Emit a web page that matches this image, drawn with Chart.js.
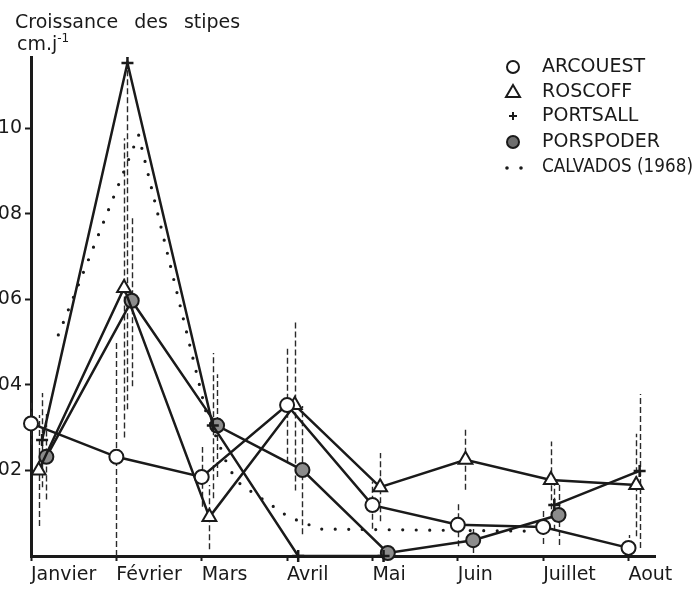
<!DOCTYPE html>
<html><head><meta charset="utf-8">
<script src="https://cdn.jsdelivr.net/npm/chart.js@4.4.1/dist/chart.umd.min.js"></script>
<style>
html,body{margin:0;padding:0;background:#fff;}
#wrap{position:relative;width:700px;height:590px;overflow:hidden;background:#fff;}
#c{position:absolute;left:-12px;top:0;}
.t{position:absolute;font-family:"DejaVu Sans";color:#1a1a1a;white-space:nowrap;line-height:19px;font-size:19px;}
</style></head><body>
<div id="wrap">
<canvas id="c" width="712" height="590"></canvas>
<div class="t" style="left:15px;top:12px;word-spacing:10px;">Croissance des stipes</div>
<div class="t" style="left:17px;top:34px;">cm.j<span style="font-size:12px;position:relative;top:-8px;">-1</span></div>
</div>
<script>
// ---- data ----
const months = ['Janvier', 'Février', 'Mars', 'Avril', 'Mai', 'Juin', 'Juillet', 'Aout'];
const yTickValues = [0.02, 0.04, 0.06, 0.08, 0.10];
const yTickLabels = ['.02', '.04', '.06', '.08', '.10'];

const arcouest  = [0.0310, 0.0232, 0.0185, 0.0353, 0.0119, 0.0073, 0.0068, 0.0019];
const roscoff   = [0.0200, 0.0627, 0.0091, 0.0353, 0.0161, 0.0225, 0.0178, 0.0166];
const portsall  = [0.0271, 0.1153, 0.0305, 0.0000, 0.0000, null,   0.0119, 0.0199];
const porspoder = [0.0232, 0.0597, 0.0305, 0.0201, 0.0007, 0.0037, 0.0096, null];

// standard deviations (vertical bars)
const arcouestSd  = [0.005, 0.027, 0.007, 0.0135, 0.0055, 0.005, 0.004, 0.003];
const roscoffSd   = [0.013, 0.035, 0.0075, 0.020, 0.008, 0.007, 0.009, 0.012];
const portsallSd  = [0.011, 0.081, 0.017, 0, 0, null, 0.006, 0.018];
const porspoderSd = [0.010, 0.020, 0.012, 0.015, 0, 0.003, 0.007, null];

// Calvados (1968): dotted curve, positions in months from Janvier
const calvadosMonth = [0.32, 1.26, 2.05, 2.32, 2.46, 2.61, 3.02, 3.39, 5.93];
const calvadosValue = [0.0517, 0.0985, 0.0337, 0.0204, 0.0166, 0.0147, 0.0091, 0.0063, 0.0058];

// ---- presentation ----
const SHIFT = 12;                 // canvas is shifted left (left edge of tick labels is cut)
const seriesShift = {ARCOUEST: 0, ROSCOFF: 0.09, PORTSALL: 0.13, PORSPODER: 0.18};
const INK = '#1a1a1a';

function pts(vals, shift) { return vals.map((v, i) => ({x: i + shift, y: v})); }

Chart.defaults.font.family = '"DejaVu Sans"';
Chart.defaults.font.size = 19;
Chart.defaults.color = INK;

const lineBase = {borderColor: INK, borderWidth: 2.5, tension: 0, clip: false, spanGaps: false,
  pointBorderColor: INK, pointBorderWidth: 2, pointHoverRadius: 7};

const datasets = [
  Object.assign({}, lineBase, {label: 'ARCOUEST', data: pts(arcouest, seriesShift.ARCOUEST), sd: arcouestSd,
    pointStyle: 'circle', pointRadius: 7, pointBackgroundColor: '#fff', marker: 'circle'}),
  Object.assign({}, lineBase, {label: 'ROSCOFF', data: pts(roscoff, seriesShift.ROSCOFF), sd: roscoffSd,
    pointStyle: 'triangle', pointRadius: 8, pointBackgroundColor: '#fff', marker: 'triangle'}),
  Object.assign({}, lineBase, {label: 'PORTSALL', data: pts(portsall, seriesShift.PORTSALL), sd: portsallSd,
    pointStyle: 'cross', pointRadius: 6, pointBorderWidth: 2.5, pointBackgroundColor: INK, marker: 'cross'}),
  Object.assign({}, lineBase, {label: 'PORSPODER', data: pts(porspoder, seriesShift.PORSPODER), sd: porspoderSd,
    pointStyle: 'circle', pointRadius: 7, pointBackgroundColor: '#8c8c8c', marker: 'filled'}),
  {label: 'CALVADOS (1968)', data: calvadosMonth.map((m, i) => ({x: m, y: calvadosValue[i]})),
    borderColor: INK, borderWidth: 3.2, borderDash: [0, 13.5], borderCapStyle: 'round',
    pointRadius: 0, tension: 0, clip: false, marker: 'dots'}
];

const errorBars = {
  id: 'errorBars',
  beforeDatasetsDraw(chart) {
    const {ctx, chartArea: a, scales: {x, y}} = chart;
    ctx.save();
    ctx.beginPath();
    ctx.rect(a.left, a.top, a.right - a.left, a.bottom - a.top);
    ctx.clip();
    ctx.strokeStyle = '#2a2a2a';
    ctx.lineWidth = 1.4;
    ctx.setLineDash([6, 3]);
    chart.data.datasets.forEach(ds => {
      if (!ds.sd) return;
      ds.data.forEach((p, i) => {
        const s = ds.sd[i];
        if (p.y == null || !s) return;
        const px = Math.round(x.getPixelForValue(p.x)) + 0.5;
        ctx.beginPath();
        ctx.moveTo(px, y.getPixelForValue(Math.max(0, p.y - s)));
        ctx.lineTo(px, y.getPixelForValue(p.y + s));
        ctx.stroke();
      });
    });
    ctx.restore();
  }
};

const legendRowsY = [67, 92, 116, 142, 167];
const drawnLegend = {
  id: 'drawnLegend',
  afterDraw(chart) {
    const ctx = chart.ctx;
    const mx = 513 + SHIFT, tx = 542 + SHIFT;
    ctx.save();
    ctx.font = '19px "DejaVu Sans"';
    ctx.textBaseline = 'middle';
    ctx.textAlign = 'left';
    chart.data.datasets.forEach((ds, i) => {
      const yy = legendRowsY[i];
      ctx.strokeStyle = INK; ctx.fillStyle = INK; ctx.lineWidth = 2; ctx.setLineDash([]);
      if (ds.marker === 'circle' || ds.marker === 'filled') {
        ctx.beginPath(); ctx.arc(mx, yy, 6, 0, Math.PI * 2);
        ctx.fillStyle = ds.marker === 'filled' ? '#6e6e6e' : '#fff';
        ctx.fill(); ctx.stroke();
      } else if (ds.marker === 'triangle') {
        ctx.beginPath(); ctx.moveTo(mx, yy - 7); ctx.lineTo(mx + 7, yy + 5); ctx.lineTo(mx - 7, yy + 5); ctx.closePath(); ctx.stroke();
      } else if (ds.marker === 'cross') {
        ctx.beginPath(); ctx.moveTo(mx - 4, yy); ctx.lineTo(mx + 4, yy); ctx.moveTo(mx, yy - 4); ctx.lineTo(mx, yy + 4); ctx.stroke();
      } else if (ds.marker === 'dots') {
        ctx.beginPath(); ctx.arc(mx - 6, yy + 1, 1.8, 0, Math.PI * 2); ctx.arc(mx + 8, yy + 1, 1.8, 0, Math.PI * 2); ctx.fill();
      }
      ctx.fillStyle = INK;
      ctx.fillText(ds.label, tx, yy, 151);
    });
    ctx.restore();
  }
};

new Chart(document.getElementById('c'), {
  type: 'line',
  data: {datasets},
  options: {
    responsive: false, animation: false, devicePixelRatio: 1,
    layout: {padding: {top: 57, right: 45, bottom: 0, left: 0}},
    plugins: {legend: {display: false}, tooltip: {enabled: false}},
    scales: {
      x: {
        type: 'linear', min: 0, max: 7.31,
        afterBuildTicks: s => { s.ticks = months.map((m, i) => ({value: i})); },
        afterFit: s => { s.height = 34; },
        ticks: {align: 'start', autoSkip: false, maxRotation: 0, minRotation: 0, padding: 3,
          callback: (v, i) => months[i]},
        grid: {drawOnChartArea: false, drawTicks: true, tickLength: 5, tickWidth: 2, tickColor: INK},
        border: {display: true, width: 3, color: INK}
      },
      y: {
        type: 'linear', min: 0, max: 0.1167,
        afterBuildTicks: s => { s.ticks = yTickValues.map(v => ({value: v})); },
        afterFit: s => { s.width = 31 + SHIFT; },
        ticks: {padding: 3, callback: (v, i) => yTickLabels[i]},
        grid: {drawOnChartArea: false, drawTicks: true, tickLength: 6, tickWidth: 2, tickColor: INK},
        border: {display: true, width: 3, color: INK}
      }
    }
  },
  plugins: [errorBars, drawnLegend]
});
</script>
</body></html>
